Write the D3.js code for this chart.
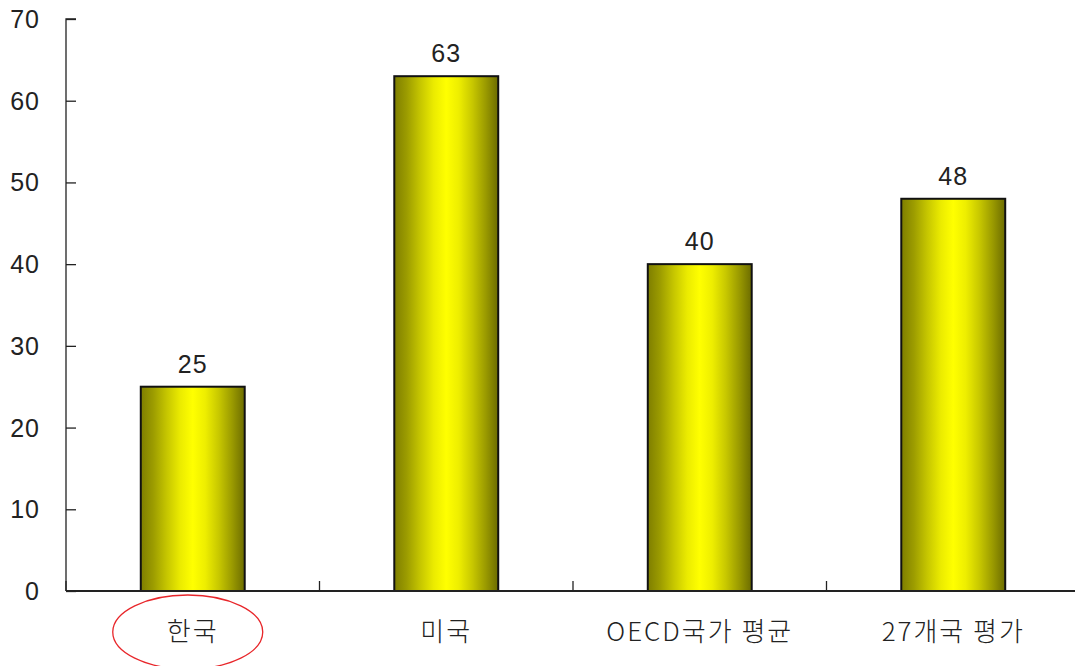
<!DOCTYPE html>
<html>
<head>
<meta charset="utf-8">
<script src="https://cdn.jsdelivr.net/npm/d3@7"></script>
<style>
  html, body { margin: 0; padding: 0; background: #fff; }
  svg { display: block; }
</style>
</head>
<body>
<svg id="chart" width="1076" height="666"></svg>
<script>
const categories = ["한국", "미국", "OECD국가 평균", "27개국 평가"];
const values = [25, 63, 40, 48];
const yTicks = [0, 10, 20, 30, 40, 50, 60, 70];

const svg = d3.select("#chart");
const mLeft = 66, mRight = 1080, mTop = 19, mBottom = 591;

const x = d3.scaleBand().domain(categories).range([mLeft, mRight]).paddingInner(0.59).paddingOuter(0.295);
const xb = d3.scaleBand().domain(categories).range([mLeft, mRight]);
const y = d3.scaleLinear().domain([0, 70]).range([mBottom, mTop]);

// gradient
const defs = svg.append("defs");
const grad = defs.append("linearGradient").attr("id", "barGrad").attr("x1", "0%").attr("x2", "100%").attr("y1", "0%").attr("y2", "0%");
const stops = [
  [0, "#7e7e00"], [0.12, "#9c9c00"], [0.25, "#c6c600"], [0.38, "#ebeb00"],
  [0.5, "#ffff00"], [0.62, "#eeee00"], [0.75, "#c8c800"], [0.88, "#9a9a00"], [1, "#6c6c00"]
];
stops.forEach(s => grad.append("stop").attr("offset", s[0]).attr("stop-color", s[1]));

// y axis
const yAxis = d3.axisRight(y).tickValues(yTicks).tickSize(10).tickFormat("");
const gy = svg.append("g").attr("transform", `translate(${mLeft},0)`).call(yAxis);
gy.select(".domain").attr("stroke", "#222").attr("stroke-width", 1.3).attr("d", `M10,${mTop}H0V${mBottom}`);
gy.selectAll(".tick line").attr("stroke", "#222").attr("stroke-width", 1.3);

svg.append("g").selectAll("text").data(yTicks).join("text")
  .attr("x", 40).attr("y", d => y(d)).attr("dy", "0.36em")
  .attr("text-anchor", "end")
  .attr("font-family", "Liberation Sans, Arial, sans-serif")
  .attr("font-size", 25).attr("letter-spacing", 1).attr("fill", "#222")
  .text(d => d);

// bars
svg.append("g").selectAll("rect").data(values).join("rect")
  .attr("x", (d, i) => x(categories[i]))
  .attr("width", x.bandwidth())
  .attr("y", d => y(d))
  .attr("height", d => mBottom - y(d))
  .attr("fill", "url(#barGrad)")
  .attr("stroke", "#111").attr("stroke-width", 2);

// x axis
svg.append("line").attr("x1", mLeft).attr("x2", 1075).attr("y1", mBottom).attr("y2", mBottom)
  .attr("stroke", "#222").attr("stroke-width", 2);
const xTickPos = categories.map(c => xb(c));
svg.append("g").selectAll("line").data(xTickPos).join("line")
  .attr("x1", d => d).attr("x2", d => d)
  .attr("y1", mBottom).attr("y2", mBottom - 10)
  .attr("stroke", "#222").attr("stroke-width", 1.3);

// value labels
svg.append("g").selectAll("text").data(values).join("text")
  .attr("x", (d, i) => x(categories[i]) + x.bandwidth() / 2)
  .attr("y", d => y(d) - 14)
  .attr("text-anchor", "middle")
  .attr("font-family", "Liberation Sans, Arial, sans-serif")
  .attr("font-size", 25).attr("letter-spacing", 1).attr("fill", "#222")
  .text(d => d);

// category labels
svg.append("g").selectAll("text").data(categories).join("text")
  .attr("x", d => xb(d) + xb.bandwidth() / 2)
  .attr("y", 632).attr("dy", "0.36em")
  .attr("text-anchor", "middle")
  .attr("font-family", "Noto Sans CJK KR, sans-serif")
  .attr("font-weight", 300)
  .attr("font-size", 26).attr("letter-spacing", 2).attr("fill", "#222")
  .text(d => d);

// red ellipse around first label
svg.append("ellipse")
  .attr("cx", xb(categories[0]) + xb.bandwidth() / 2 - 5)
  .attr("cy", 632)
  .attr("rx", 75).attr("ry", 37)
  .attr("fill", "none").attr("stroke", "#e8262a").attr("stroke-width", 1.3);
</script>
</body>
</html>
